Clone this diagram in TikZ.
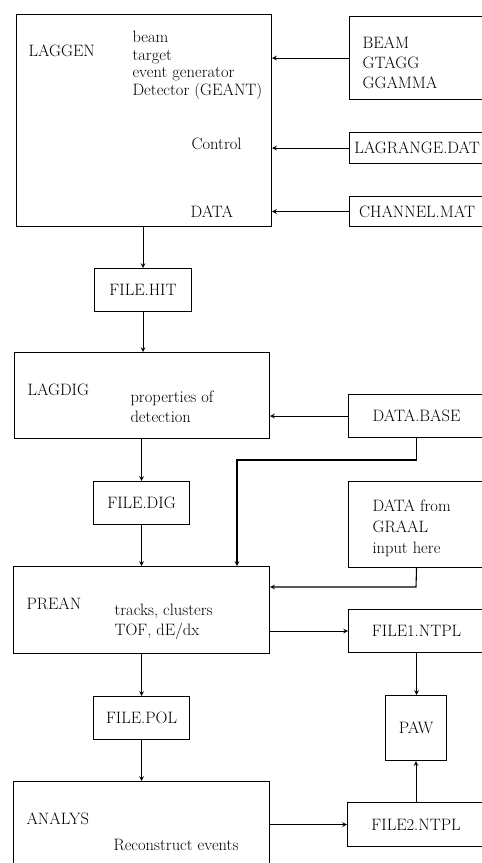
\documentclass[tikz,border=0pt]{standalone}
\begin{document}
\begin{tikzpicture}[x=1pt, y=-1pt, >=stealth, line width=1.1pt,
    font=\fontsize{16.5}{17.5}\selectfont,
    box/.style={draw, anchor=north west, inner sep=0pt},
    txt/.style={anchor=west, inner sep=0pt},
    block/.style={anchor=north west, inner sep=0pt, align=left}]
    \useasboundingbox (0,0) rectangle (482,863);
    \clip (0,0) rectangle (482,863);
    \node[box, minimum width=255, minimum height=212] (laggen) at (16,14) {};
    \node[txt] (laggenname) at (28,51) {LAGGEN};
    \node[block] (laggentext) at (132,30.5) {beam\\target\\event generator\\Detector (GEANT)};
    \node[txt] (control) at (191,144) {Control};
    \node[txt] (data) at (190,212) {DATA};
    \node[box, minimum width=135, minimum height=83] (beam) at (349,16) {};
    \node[block, font=\fontsize{16.5}{20}\selectfont] (beamtext) at (362,36.7) {BEAM\\GTAGG\\GGAMMA};
    \node[box, minimum width=135, minimum height=31] (lagrange) at (349,132) {LAGRANGE.DAT};
    \node[box, minimum width=135, minimum height=30] (channel) at (349,196) {CHANNEL.MAT};
    \node[box, minimum width=97, minimum height=43] (filehit) at (94,268) {FILE.HIT};
    \node[box, minimum width=255, minimum height=86] (lagdig) at (14,352) {};
    \node[txt] (lagdigname) at (27,390) {LAGDIG};
    \node[block, font=\fontsize{16.5}{19.5}\selectfont] (lagdigtext) at (130,390.5) {properties of\\detection};
    \node[box, minimum width=136, minimum height=43] (database) at (348,394) {DATA.BASE};
    \node[box, minimum width=96, minimum height=43] (filedig) at (93,481) {FILE.DIG};
    \node[box, minimum width=136, minimum height=86] (graal) at (348,481) {};
    \node[block, font=\fontsize{16.5}{21}\selectfont] (graaltext) at (372,499.5) {DATA from\\GRAAL\\input here};
    \node[box, minimum width=256, minimum height=87] (prean) at (13,566) {};
    \node[txt] (preanname) at (26,604) {PREAN};
    \node[block, font=\fontsize{16.5}{20}\selectfont] (preantext) at (114,603.5) {tracks, clusters\\TOF, dE/dx};
    \node[box, minimum width=136, minimum height=43] (file1) at (348,609) {FILE1.NTPL};
    \node[box, minimum width=61, minimum height=65] (paw) at (385,695) {PAW};
    \node[box, minimum width=96, minimum height=43] (filepol) at (93,696) {FILE.POL};
    \node[box, minimum width=256, minimum height=100] (analys) at (13,781) {};
    \node[txt] (analysname) at (26,819) {ANALYS};
    \node[txt] (analystext) at (113,845) {Reconstruct events};
    \node[box, minimum width=137, minimum height=44] (file2) at (347,802) {FILE2.NTPL};
    \coordinate (basebend) at (237,460);
    \coordinate (graalbend) at (416,587);
    \draw[->] (beam.west) -- (beam.west -| laggen.east);
    \draw[->] (lagrange.west) -- (lagrange.west -| laggen.east);
    \draw[->] (channel.west) -- (channel.west -| laggen.east);
    \draw[->] (filehit.north |- laggen.south) -- (filehit.north);
    \draw[->] (filehit.south) -- (filehit.south |- lagdig.north);
    \draw[->] (database.west) -- (database.west -| lagdig.east);
    \draw[->] (filedig.north |- lagdig.south) -- (filedig.north);
    \draw[->] (filedig.south) -- (filedig.south |- prean.north);
    \draw[->] (database.south) |- (basebend) -- (basebend |- prean.north);
    \draw[->] (graal.south) -- (graalbend) -- (graalbend -| prean.east);
    \draw[->] (prean.east |- file1.west) -- (file1.west);
    \draw[->] (file1.south) -- (file1.south |- paw.north);
    \draw[->] (filepol.north |- prean.south) -- (filepol.north);
    \draw[->] (filepol.south) -- (filepol.south |- analys.north);
    \draw[->] (file2.north) -- (file2.north |- paw.south);
    \draw[->] (analys.east |- file2.west) -- (file2.west);
\end{tikzpicture}
\end{document}
